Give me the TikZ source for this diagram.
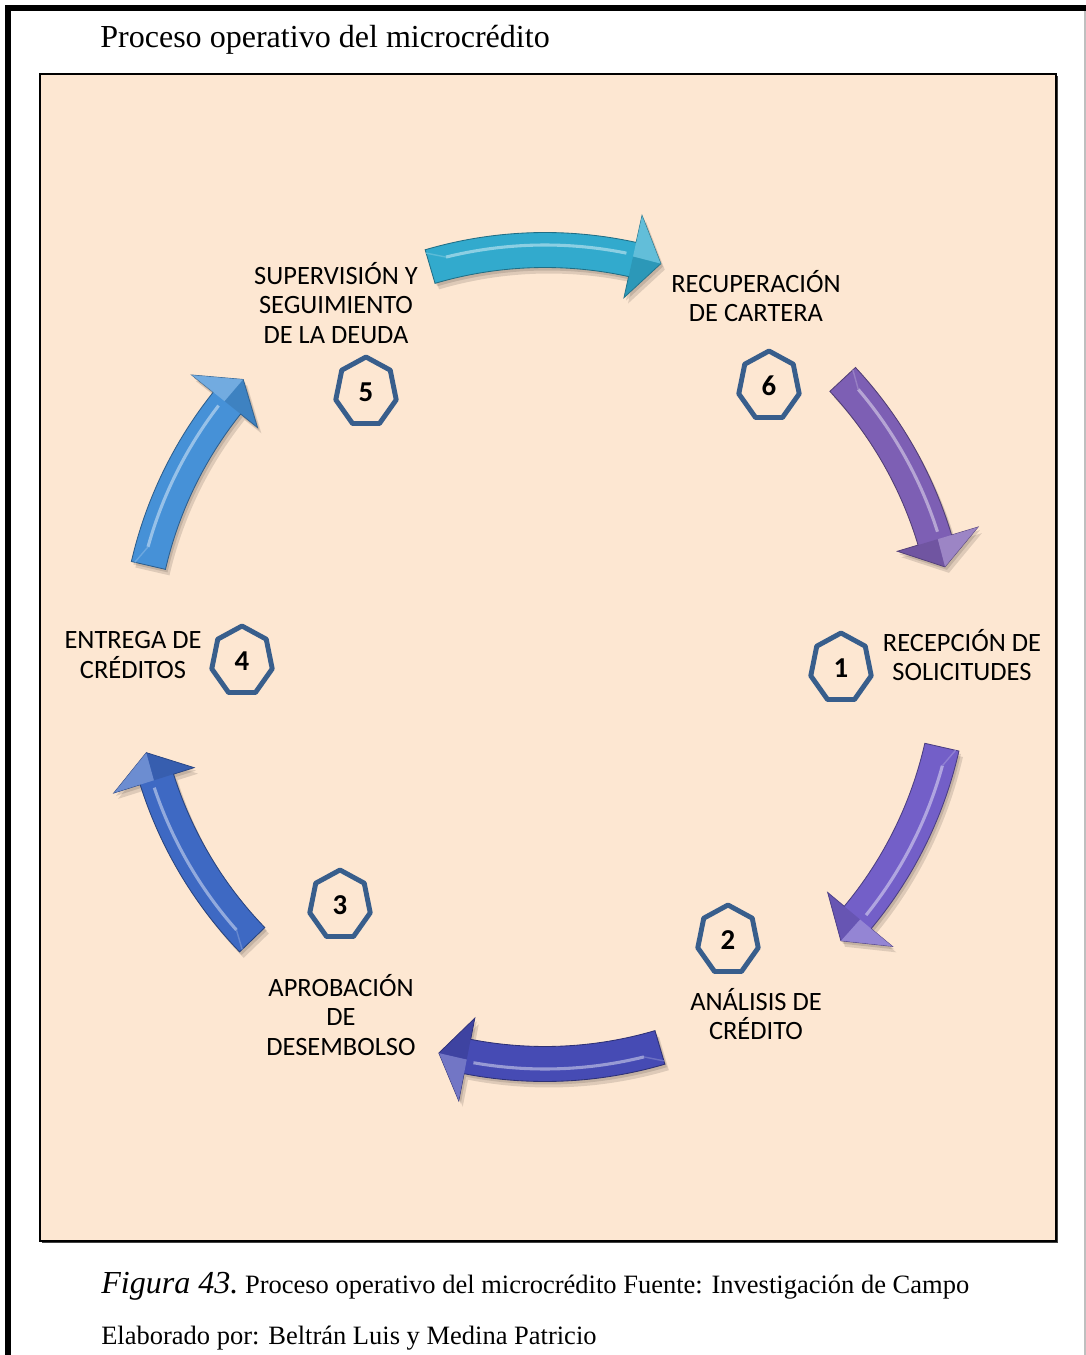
\documentclass[tikz,border=0pt]{standalone}
\usepackage{fontspec}
\setmainfont{Liberation Serif}
\newfontfamily\calibri{Carlito}

\definecolor{peach}{RGB}{253,231,210}
\definecolor{hepta}{RGB}{56,94,140}
\definecolor{acyan}{RGB}{50,170,205}
\definecolor{apurple}{RGB}{125,95,180}
\definecolor{alav}{RGB}{115,95,200}
\definecolor{aindigo}{RGB}{70,75,180}
\definecolor{ablue}{RGB}{62,105,195}
\definecolor{asky}{RGB}{70,145,215}

% curved arrow on the ring: tail \t, neck \n, tip \p
\newcommand\arrowpath{(\t:424.5) arc[start angle=\t,end angle=\n,radius=424.5]
  -- (\n:452) -- (\p:410) -- (\n:368) -- (\n:389.5)
  arc[start angle=\n,end angle=\t,radius=389.5] -- cycle}

\begin{document}
\begin{tikzpicture}[x=0.25mm,y=0.25mm,every node/.style={inner sep=0pt},
    lbl/.style={font=\calibri\fontsize{18.8}{21}\selectfont,align=center},
    num/.style={font=\calibri\bfseries\fontsize{20.5}{24}\selectfont},
    hep/.style={draw=hepta,line width=3.5pt,line join=round}]
  \useasboundingbox (0,0) rectangle (1086,1355);
  % page frame
  \draw[gray!50,line width=1pt](1085,0)--(1085,1347);
  \draw[line width=3.6pt](8,0)--(8,1347)--(1086,1347);
  \node[anchor=base west,font=\fontsize{22.8}{27}\selectfont](title) at (100,1307)
    {Proceso operativo del microcrédito};
  % panel
  \fill[black!75](42,112)rectangle(1058,1279);
  \draw[fill=peach,line width=1.1pt](40,114)rectangle(1056,1281);
  % the six arrows
  \begin{scope}[shift={(545,698)}]
    \foreach \t/\p/\c in {106.4/73.6/acyan,43/12.7/apurple,-12.8/-43.8/alav,
        -73.6/-105/aindigo,-136/-166.5/ablue,167/137.4/asky}{
      \pgfmathsetmacro\n{\p+4}
      \pgfmathsetmacro\a{\t-2.5}
      \pgfmathsetmacro\b{\n+1}
      \fill[black,opacity=.12,shift={(4,-6)}]\arrowpath;
      \fill[black,opacity=.12,shift={(2,-3)}]\arrowpath;
      \fill[\c,draw=\c!65!black,line width=.6pt]\arrowpath;
      \fill[\c!70!white,opacity=.8](\n:452)--(\p:410)--(\n:410)--cycle;
      \fill[\c!80!black,opacity=.5](\n:368)--(\p:410)--(\n:410)--cycle;
      \draw[\c!45!white,line width=2.2pt,opacity=.8](\a:412)arc[start angle=\a,end angle=\b,radius=412];
      \draw[\c!80!white,line width=1pt](\t:421)--(\a:412);
    }
  \end{scope}
  % steps
  \foreach \i/\x/\y in {1/841/687,2/728/415,3/340/450,4/242/694,5/366/963,6/769/969}{
    \node[num](h\i) at (\x,\y){\i};
    \draw[hep,shift={(h\i)}](90:31 and 35)
      \foreach \k [evaluate=\k as \ang using 90+\k*360/7] in {1,...,6}{--(\ang:31 and 35)}--cycle;
  }
  \node[lbl](l1) at (962,700){RECEPCIÓN DE\\SOLICITUDES};
  \node[lbl](l2) at (756,341){ANÁLISIS DE\\CRÉDITO};
  \node[lbl](l3) at (341,340){APROBACIÓN\\DE\\DESEMBOLSO};
  \node[lbl](l4) at (133,700){ENTREGA DE\\CRÉDITOS};
  \node[lbl](l5) at (336,1052){SUPERVISIÓN Y\\SEGUIMIENTO\\DE LA DEUDA};
  \node[lbl](l6) at (756,1059){RECUPERACIÓN\\DE CARTERA};
  % caption
  \node[anchor=base west](fig) at (101,61){\fontsize{22.8}{27}\selectfont\itshape Figura 43.%
    \fontsize{18.85}{22}\selectfont\upshape\ Proceso operativo del microcrédito Fuente: Investigación de Campo};
  \node[anchor=base west,font=\fontsize{18.85}{22}\selectfont](auth) at (101,11)
    {Elaborado por: Beltrán Luis y Medina Patricio};
\end{tikzpicture}
\end{document}
